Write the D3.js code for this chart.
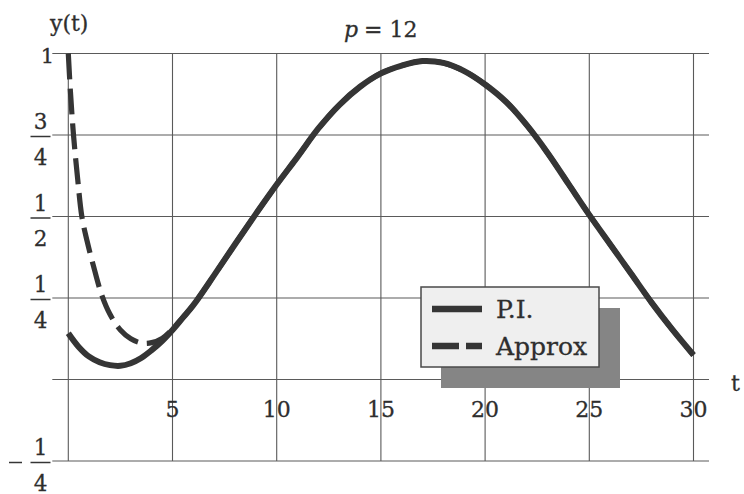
<!DOCTYPE html>
<html>
<head>
<meta charset="utf-8">
<script src="https://cdn.jsdelivr.net/npm/d3@7/dist/d3.min.js"></script>
<style>
  html, body { margin: 0; padding: 0; background: #ffffff; }
  svg { display: block; }
  text { font-family: "DejaVu Serif", "Liberation Serif", serif; fill: #2e2e2e; stroke: #2e2e2e; stroke-width: 0.3; }
</style>
</head>
<body>
<svg id="chart" width="744" height="494"></svg>
<script>
// Sample times (t) for the P.I. solution
const tPI = [0, 0.5, 1, 1.5, 2, 2.5, 3, 3.5, 4, 4.5, 5, 5.5, 6, 7, 8, 9, 10, 11, 12, 13, 14, 15, 16, 17, 18, 19, 20, 21, 22, 23, 24, 25, 26, 27, 28, 29, 30];
// Particular-integral solution y(t)
const yPI = [0.142, 0.1, 0.07, 0.053, 0.044, 0.042, 0.05, 0.066, 0.09, 0.118, 0.152, 0.19, 0.228, 0.32, 0.415, 0.508, 0.598, 0.683, 0.77, 0.842, 0.898, 0.939, 0.963, 0.977, 0.971, 0.946, 0.905, 0.852, 0.78, 0.695, 0.6, 0.505, 0.415, 0.325, 0.235, 0.152, 0.075];

// Approximate solution: starts at y(0) = 1 and settles onto the P.I. curve
const tApprox = [0, 0.1, 0.25, 0.45, 0.65, 0.9, 1.2, 1.6, 2, 2.5, 3, 3.5, 4, 4.5, 5, 5.5, 6, 7, 8, 9, 10, 11, 12, 13, 14, 15, 16, 17, 18, 19, 20, 21, 22, 23, 24, 25, 26, 27, 28, 29, 30];
const yApprox = [1.0, 0.885, 0.75, 0.615, 0.5, 0.425, 0.35, 0.26, 0.2, 0.152, 0.125, 0.112, 0.113, 0.126, 0.154, 0.19, 0.228, 0.32, 0.415, 0.508, 0.598, 0.683, 0.77, 0.842, 0.898, 0.939, 0.963, 0.977, 0.971, 0.946, 0.905, 0.852, 0.78, 0.695, 0.6, 0.505, 0.415, 0.325, 0.235, 0.152, 0.075];

// Axis ticks and labels
const xTicks = [0, 5, 10, 15, 20, 25, 30];
const xTickLabels = ["", "5", "10", "15", "20", "25", "30"];
const yTicks = [-0.25, 0, 0.25, 0.5, 0.75, 1];
const yTickLabels = ["-1/4", "", "1/4", "1/2", "3/4", "1"];

const seriesNames = ["P.I.", "Approx"];
const titleVar = "p";
const titleRest = "= 12";

const svg = d3.select("#chart");
const ink = "#353535";
const gridInk = "#5a5a5a";

const x = d3.scaleLinear().domain([0, 30]).range([68.3, 693.5]);
const y = d3.scaleLinear().domain([-0.25, 1]).range([461, 53.5]);

// Grid
const grid = svg.append("g").attr("stroke", gridInk).attr("stroke-width", 1.1);
grid.selectAll("line.h").data(yTicks).join("line")
  .attr("class", "h")
  .attr("x1", x(0) - 16).attr("x2", x(30) + 15.5)
  .attr("y1", d => y(d)).attr("y2", d => y(d));
grid.selectAll("line.v").data(xTicks).join("line")
  .attr("class", "v")
  .attr("x1", d => x(d)).attr("x2", d => x(d))
  .attr("y1", y(1)).attr("y2", y(-0.25));

// x tick labels sit inside the band below y = 0
svg.append("g").selectAll("text").data(xTicks).join("text")
  .attr("x", d => x(d))
  .attr("y", y(0) + 37)
  .attr("text-anchor", "middle")
  .attr("font-size", 22)
  .text((d, i) => xTickLabels[i]);

// y tick labels drawn as stacked fractions
const yl = svg.append("g");
yTicks.forEach((v, i) => {
  const lab = yTickLabels[i];
  if (!lab) return;
  const yy = y(v);
  if (lab.indexOf("/") < 0) {
    yl.append("text").attr("x", 54).attr("y", yy + 9)
      .attr("text-anchor", "end").attr("font-size", 21).text(lab);
    return;
  }
  const neg = lab[0] === "-";
  const [num, den] = lab.replace("-", "").split("/");
  const cx = 40.5, bar = yy + 1.5;
  yl.append("line").attr("x1", 30.5).attr("x2", 50.5)
    .attr("y1", bar).attr("y2", bar).attr("stroke", ink).attr("stroke-width", 1.5);
  yl.append("text").attr("x", cx).attr("y", bar - 7.5)
    .attr("text-anchor", "middle").attr("font-size", 21.5).text(num);
  yl.append("text").attr("x", cx).attr("y", bar + 28)
    .attr("text-anchor", "middle").attr("font-size", 21.5).text(den);
  if (neg) {
    yl.append("line").attr("x1", 9).attr("x2", 22)
      .attr("y1", bar).attr("y2", bar).attr("stroke", ink).attr("stroke-width", 1.5);
  }
});

// Axis names and title
svg.append("text").attr("x", 50).attr("y", 31).attr("font-size", 22).text("y(t)");
svg.append("text").attr("x", 731).attr("y", 391).attr("font-size", 22).text("t");
const title = svg.append("text").attr("x", 344).attr("y", 37).attr("font-size", 22);
title.append("tspan").attr("font-style", "italic").text(titleVar);
title.append("tspan").attr("dx", 6).text(titleRest);

// Curves
const line = d3.line().x(d => x(d[0])).y(d => y(d[1])).curve(d3.curveCatmullRom.alpha(0.5));
const approxPts = tApprox.map((t, i) => [t, yApprox[i]]);
const piPts = tPI.map((t, i) => [t, yPI[i]]);

svg.append("path").datum(approxPts)
  .attr("d", line).attr("fill", "none")
  .attr("stroke", ink).attr("stroke-width", 5.2)
  .attr("stroke-dasharray", "26,9");
svg.append("path").datum(piPts)
  .attr("d", line).attr("fill", "none")
  .attr("stroke", ink).attr("stroke-width", 6)
  .attr("stroke-linecap", "butt");

// Legend with drop shadow
const lg = svg.append("g").attr("transform", "translate(421,287)");
lg.append("rect").attr("x", 20).attr("y", 21).attr("width", 179).attr("height", 80).attr("fill", "#858585");
lg.append("rect").attr("x", 0).attr("y", 0).attr("width", 178).attr("height", 80)
  .attr("fill", "#efefef").attr("stroke", "#4a4a4a").attr("stroke-width", 1.5);
const rows = [
  { name: seriesNames[0], dash: null, yy: 22 },
  { name: seriesNames[1], dash: "27,7", yy: 59 }
];
rows.forEach(r => {
  const ln = lg.append("line").attr("x1", 11).attr("x2", 61)
    .attr("y1", r.yy).attr("y2", r.yy)
    .attr("stroke", ink).attr("stroke-width", 6.5);
  if (r.dash) ln.attr("stroke-dasharray", r.dash);
  lg.append("text").attr("x", 75).attr("y", r.yy + 9)
    .attr("font-size", 25).text(r.name);
});
</script>
</body>
</html>
